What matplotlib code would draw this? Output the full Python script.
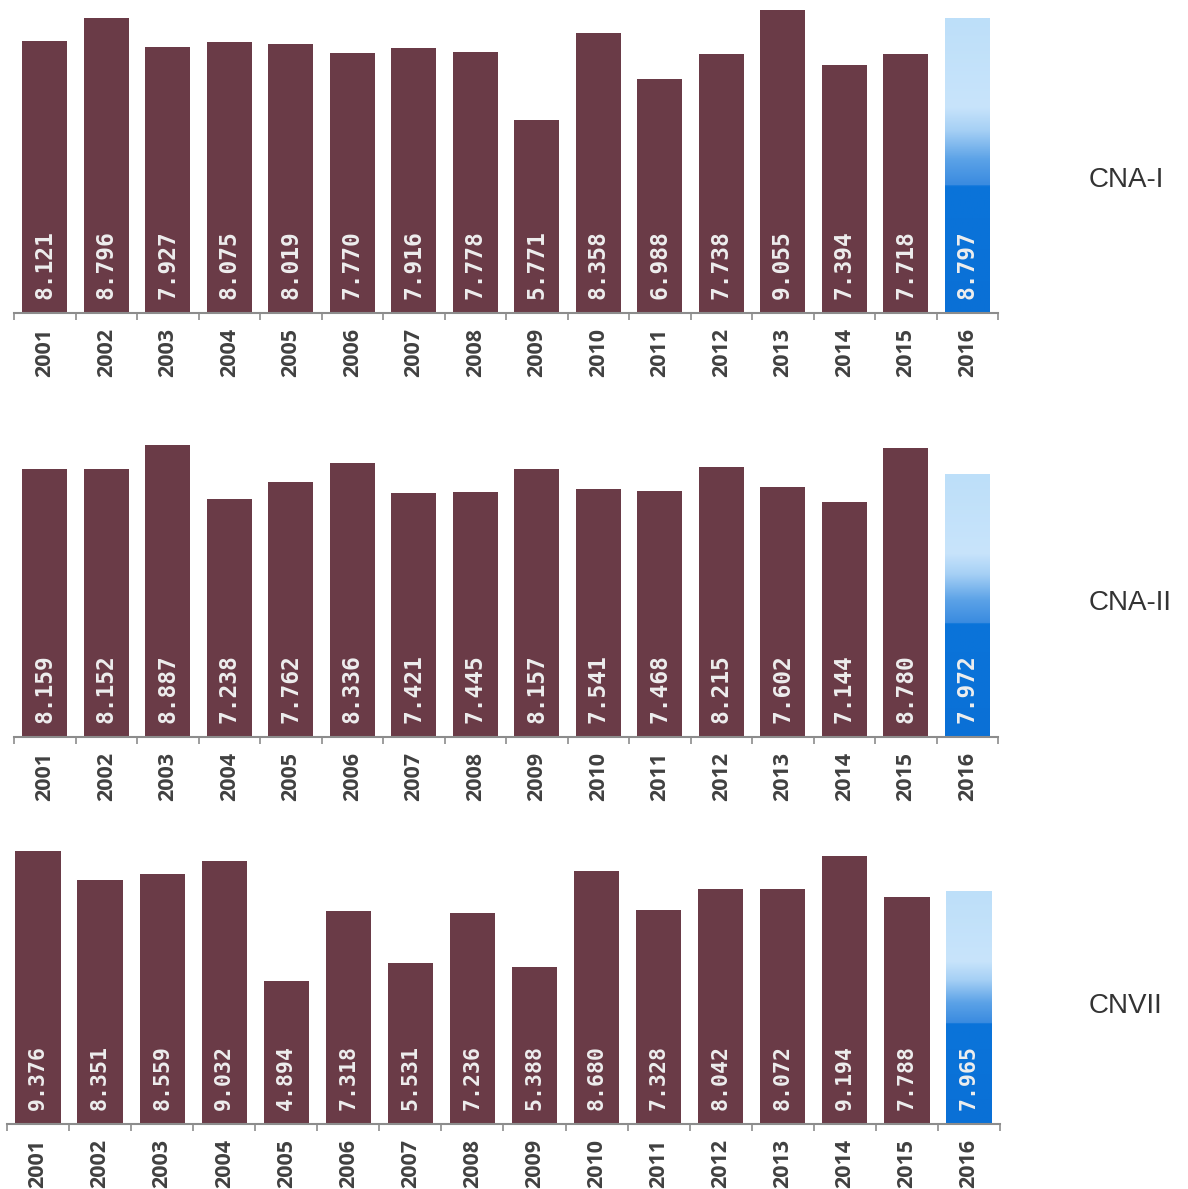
import numpy as np
import matplotlib.pyplot as plt
from matplotlib.colors import LinearSegmentedColormap

years = [str(y) for y in range(2001, 2017)]
cna_i = [8.121, 8.796, 7.927, 8.075, 8.019, 7.770, 7.916, 7.778,
         5.771, 8.358, 6.988, 7.738, 9.055, 7.394, 7.718, 8.797]
cna_ii = [8.159, 8.152, 8.887, 7.238, 7.762, 8.336, 7.421, 7.445,
          8.157, 7.541, 7.468, 8.215, 7.602, 7.144, 8.780, 7.972]
cnvii = [9.376, 8.351, 8.559, 9.032, 4.894, 7.318, 5.531, 7.236,
         5.388, 8.680, 7.328, 8.042, 8.072, 9.194, 7.788, 7.965]
names = ['CNA-I', 'CNA-II', 'CNVII']

W, H = 1188, 1189
ymax = 9.6
bar_col = '#6a3b47'

# blue fade for the current year (0 = bottom of bar, 1 = top)
blue = LinearSegmentedColormap.from_list('blue_fade', [
    (0.0, '#0a70d6'), (0.43, '#0a74da'), (0.435, '#3a8be0'),
    (0.52, '#5ba2e7'), (0.62, '#a6d0f5'), (0.70, '#c8e4fb'), (1.0, '#bddff9')])

# left px, right px, baseline px, px per unit, label y px, value fontsize
panels = [
    (cna_i, 14, 998, 313, 33.5, 180, 16.5),
    (cna_ii, 14, 998, 737, 32.9, 603, 16.5),
    (cnvii, 7, 1000, 1124, 29.16, 1006, 15.5),
]

fig = plt.figure(figsize=(W / 100, H / 100), dpi=100)
fig.patch.set_facecolor('white')

for (vals, l, r, base, ppu, ly, fs), name in zip(panels, names):
    ax = fig.add_axes([l / W, 1 - base / H, (r - l) / W, ymax * ppu / H])
    x = np.arange(len(vals))
    bars = ax.bar(x, vals, width=0.73, color=bar_col, zorder=2)

    # gradient fill on the last bar
    last = bars[-1]
    last.set_facecolor('none')
    x0 = last.get_x()
    ax.imshow(np.linspace(0, 1, 256).reshape(-1, 1), cmap=blue, origin='lower',
              aspect='auto', extent=[x0, x0 + last.get_width(), 0, vals[-1]],
              zorder=2, interpolation='bilinear')

    for xi, v in zip(x, vals):
        ax.annotate('%.3f' % v, (xi, 0), xytext=(0, 10), textcoords='offset points',
                    rotation=90, ha='center', va='bottom', color='#eeeeee',
                    fontsize=fs, fontweight='bold', family='DejaVu Sans Mono', zorder=3)

    ax.set_xlim(-0.5, len(vals) - 0.5)
    ax.set_ylim(0, ymax)
    ax.set_xticks(x)
    ax.set_xticklabels(years, rotation=90, fontsize=15.5, fontweight='bold',
                       family='Open Sans', color='#404040')
    ax.set_xticks(np.arange(len(vals) + 1) - 0.5, minor=True)
    ax.tick_params(axis='x', which='major', length=0, pad=11)
    ax.tick_params(axis='x', which='minor', length=5, width=1.2, color='#8c8c8c')
    ax.set_yticks([])
    for s in ['top', 'right', 'left']:
        ax.spines[s].set_visible(False)
    ax.spines['bottom'].set_color('#8c8c8c')
    ax.spines['bottom'].set_linewidth(1.5)
    ax.patch.set_alpha(0)

    fig.text(1089 / W, 1 - ly / H, name, ha='left', va='center', fontsize=20,
             family='Liberation Sans', color='#333333')

fig.savefig('out.png', dpi=100, facecolor='white')
